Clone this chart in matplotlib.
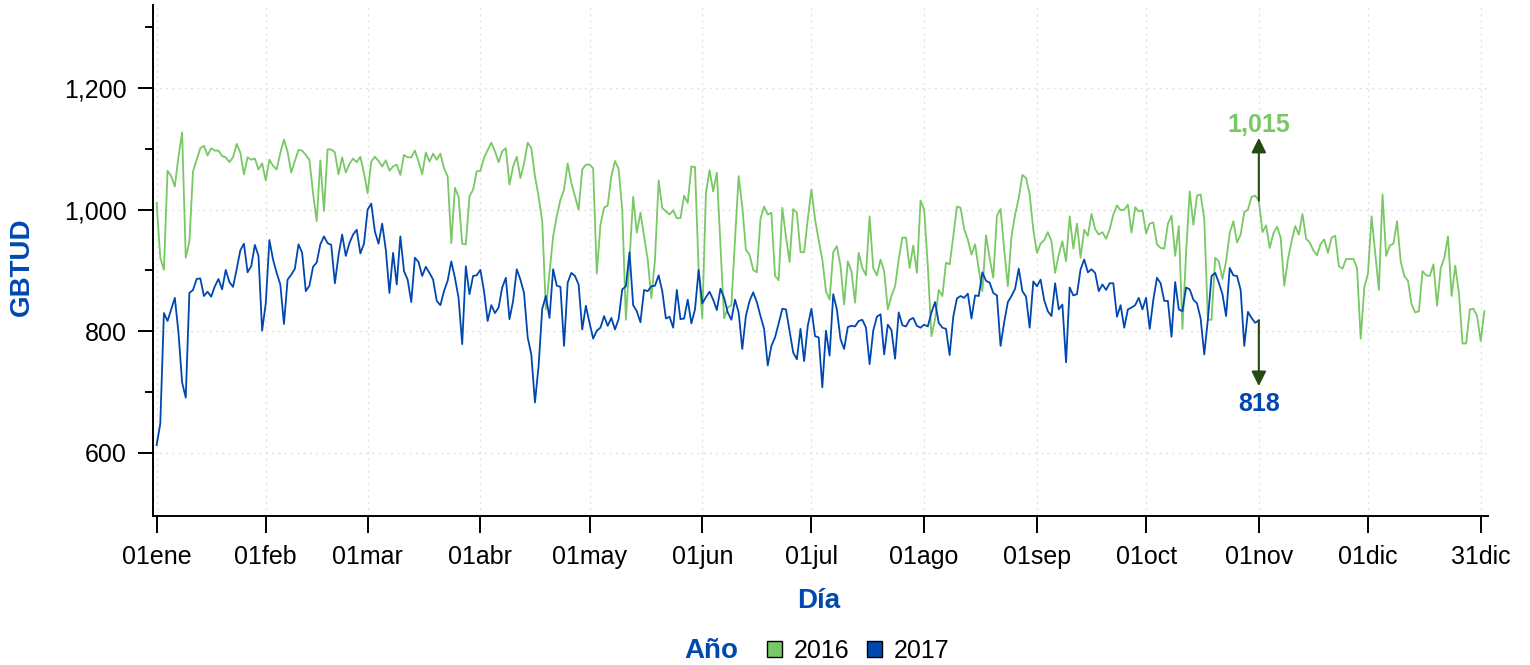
import numpy as np
import matplotlib
matplotlib.use("Agg")
import matplotlib.pyplot as plt
from matplotlib.patches import Patch

plt.rcParams['font.family'] = ['Liberation Sans', 'DejaVu Sans']

# ---------------- data ----------------
y2016 = [1011, 921, 901, 1064, 1055, 1038, 1087, 1127, 921, 947,
         1063, 1082, 1101, 1105, 1089, 1101, 1097, 1097, 1088, 1086,
         1078, 1086, 1108, 1094, 1058, 1086, 1082, 1084, 1066, 1076,
         1048, 1082, 1072, 1066, 1093, 1115, 1095, 1061, 1080, 1098,
         1097, 1090, 1082, 1027, 981, 1081, 998, 1099, 1099, 1094,
         1058, 1086, 1061, 1075, 1084, 1078, 1087, 1060, 1027, 1079,
         1087, 1080, 1071, 1081, 1064, 1071, 1074, 1057, 1090, 1086,
         1086, 1097, 1079, 1058, 1094, 1079, 1092, 1082, 1092, 1068,
         1055, 945, 1036, 1021, 944, 943, 1022, 1033, 1063, 1064,
         1085, 1098, 1110, 1096, 1078, 1096, 1101, 1041, 1071, 1087,
         1052, 1076, 1110, 1101, 1055, 1022, 981, 836, 896, 956,
         989, 1016, 1033, 1076, 1044, 1022, 1000, 1066, 1074, 1074,
         1068, 895, 975, 1003, 1007, 1055, 1080, 1067, 1000, 819,
         918, 1021, 962, 995, 956, 918, 854, 918, 1048, 1003,
         997, 992, 999, 986, 986, 1023, 1011, 1071, 1070, 900,
         821, 1027, 1065, 1030, 1061, 940, 821, 839, 843, 951,
         1055, 1005, 934, 926, 901, 897, 985, 1005, 992, 995,
         891, 884, 1003, 956, 914, 1001, 995, 930, 930, 984,
         1033, 984, 950, 918, 866, 852, 930, 940, 907, 844,
         915, 899, 847, 929, 904, 892, 989, 904, 892, 918,
         899, 836, 858, 874, 918, 954, 954, 904, 941, 896,
         1015, 1000, 907, 792, 820, 868, 858, 913, 910, 956,
         1005, 1003, 968, 951, 926, 943, 902, 866, 958, 920,
         888, 990, 1001, 934, 874, 956, 992, 1019, 1057, 1052,
         1025, 967, 929, 944, 950, 963, 948, 896, 926, 948,
         915, 989, 936, 977, 921, 967, 957, 993, 968, 959,
         963, 952, 968, 992, 1007, 999, 1000, 1008, 962, 1004,
         997, 999, 961, 977, 979, 943, 937, 936, 977, 990,
         924, 973, 804, 929, 1030, 975, 1023, 1025, 984, 819,
         819, 921, 915, 886, 915, 962, 981, 946, 959, 996,
         1000, 1021, 1023, 1015, 963, 974, 937, 961, 972, 954,
         875, 918, 948, 973, 959, 993, 952, 946, 933, 925,
         944, 951, 929, 954, 957, 907, 903, 919, 919, 919,
         904, 788, 872, 895, 989, 929, 868, 1025, 924, 941,
         944, 981, 915, 891, 883, 844, 831, 833, 899, 892,
         891, 910, 842, 904, 921, 956, 858, 908, 863, 780,
         780, 836, 837, 825, 784, 833]

y2017 = [613, 648, 830, 817, 836, 855, 798, 716, 691, 863,
         868, 886, 887, 858, 865, 857, 874, 886, 869, 901,
         881, 873, 902, 933, 944, 897, 907, 942, 924, 801,
         846, 950, 918, 896, 877, 812, 885, 893, 903, 943,
         929, 866, 875, 906, 913, 943, 956, 945, 942, 879,
         925, 959, 924, 945, 959, 967, 928, 944, 1000, 1010,
         964, 944, 977, 934, 863, 929, 877, 956, 899, 885,
         848, 921, 914, 891, 906, 896, 885, 850, 843, 866,
         883, 915, 888, 855, 779, 907, 861, 891, 892, 901,
         866, 817, 843, 830, 839, 872, 888, 820, 850, 902,
         885, 863, 790, 762, 683, 743, 837, 858, 822, 902,
         875, 873, 776, 880, 896, 891, 877, 803, 842, 814,
         788, 801, 806, 825, 809, 822, 803, 820, 869, 874,
         930, 843, 833, 815, 868, 866, 874, 875, 892, 866,
         821, 824, 806, 868, 820, 821, 852, 813, 836, 901,
         846, 856, 865, 852, 835, 870, 855, 831, 819, 852,
         831, 771, 826, 850, 864, 848, 825, 804, 744, 776,
         790, 813, 837, 836, 801, 765, 754, 804, 751, 809,
         837, 792, 790, 708, 801, 760, 861, 836, 787, 771,
         807, 809, 808, 817, 819, 806, 746, 801, 824, 828,
         762, 811, 802, 755, 831, 810, 808, 819, 822, 809,
         806, 811, 808, 831, 848, 814, 806, 804, 761, 824,
         854, 858, 855, 862, 821, 859, 858, 897, 883, 880,
         863, 859, 776, 815, 848, 858, 870, 903, 866, 857,
         806, 882, 874, 885, 851, 833, 825, 879, 836, 844,
         749, 872, 859, 861, 902, 918, 897, 902, 896, 866,
         877, 868, 879, 879, 824, 843, 806, 836, 839, 843,
         855, 836, 855, 804, 852, 888, 879, 850, 850, 791,
         881, 836, 833, 872, 869, 852, 846, 821, 762, 820,
         891, 896, 880, 861, 825, 904, 892, 891, 868, 776,
         832, 822, 814, 818]

days2016 = np.arange(1, len(y2016) + 1)
days2017 = np.arange(1, len(y2017) + 1)

tick_pos = [1, 31, 59, 90, 120, 151, 181, 212, 243, 273, 304, 334, 365]
tick_labels = ["01ene", "01feb", "01mar", "01abr", "01may", "01jun", "01jul",
               "01ago", "01sep", "01oct", "01nov", "01dic", "31dic"]
ytick_major = [600, 800, 1000, 1200]
ytick_minor = [700, 900, 1100, 1300]
series_names = ["2016", "2017"]

# ---------------- style ----------------
GREEN = "#78C864"
BLUE = "#0048B0"
ARROW = "#234A10"
FS = 18
FS_T = 20

fig = plt.figure(figsize=(15.30, 6.65), dpi=100)
ax = fig.add_axes([153 / 1530, 1 - 516 / 665, (1488 - 153) / 1530, (516 - 5) / 665])

ax.plot(days2016, y2016, color=GREEN, lw=1.3, zorder=3)
ax.plot(days2017, y2017, color=BLUE, lw=1.3, zorder=4)

ax.set_xlim(0, 367)
ax.set_ylim(496.4, 1336.4)

ax.set_xticks(tick_pos)
ax.set_xticklabels(tick_labels, fontsize=FS)
ax.set_yticks(ytick_major)
ax.set_yticklabels([f"{v:,}" for v in ytick_major], fontsize=FS)
ax.set_yticks(ytick_minor, minor=True)

ax.tick_params(axis='x', length=12, width=1.4, pad=9, colors='black')
ax.tick_params(axis='y', which='major', length=11, width=1.4, pad=8)
ax.tick_params(axis='y', which='minor', length=6, width=1.4)

for s in ['top', 'right']:
    ax.spines[s].set_visible(False)
for s in ['left', 'bottom']:
    ax.spines[s].set_linewidth(1.4)

ax.grid(True, which='major', color='#e2e2e2', linestyle=(0, (1.5, 3)), lw=1.0, zorder=0)

# annotations at the last 2017 day
last_x = days2017[-1]
v16 = y2016[last_x - 1]
v17 = y2017[-1]
ax.annotate("", xy=(last_x, v16 + 103), xytext=(last_x, v16),
            arrowprops=dict(arrowstyle='-|>', color=ARROW, lw=1.5, mutation_scale=22,
                            shrinkA=0, shrinkB=0), zorder=5)
ax.annotate("", xy=(last_x, v17 - 108), xytext=(last_x, v17),
            arrowprops=dict(arrowstyle='-|>', color=ARROW, lw=1.5, mutation_scale=22,
                            shrinkA=0, shrinkB=0), zorder=5)
ax.text(last_x, v16 + 105, f"{v16:,}", color=GREEN, fontsize=FS, fontweight='bold',
        ha='center', va='bottom')
ax.text(last_x, v17 - 117, f"{v17:,}", color=BLUE, fontsize=FS, fontweight='bold',
        ha='center', va='top')

# axis titles
fig.text(22 / 1530, 1 - 267 / 665, "GBTUD", rotation=90, color=BLUE, fontsize=FS_T,
         fontweight='bold', ha='center', va='center')
fig.text(819 / 1530, 1 - 601 / 665, "Día", color=BLUE, fontsize=FS_T,
         fontweight='bold', ha='center', va='center')

# legend
fig.text(711 / 1530, 1 - 651 / 665, "Año", color=BLUE, fontsize=FS_T,
         fontweight='bold', ha='center', va='center')
handles = [Patch(facecolor=GREEN, edgecolor='black', lw=1.0),
           Patch(facecolor=BLUE, edgecolor='black', lw=1.0)]
fig.legend(handles, series_names, loc='center', bbox_to_anchor=(858 / 1530, 1 - 651 / 665),
           ncol=2, frameon=False, fontsize=FS, handlelength=0.62, handleheight=0.62,
           handletextpad=0.45, columnspacing=0.7, borderpad=0, borderaxespad=0)

fig.savefig("out.png", dpi=100)
